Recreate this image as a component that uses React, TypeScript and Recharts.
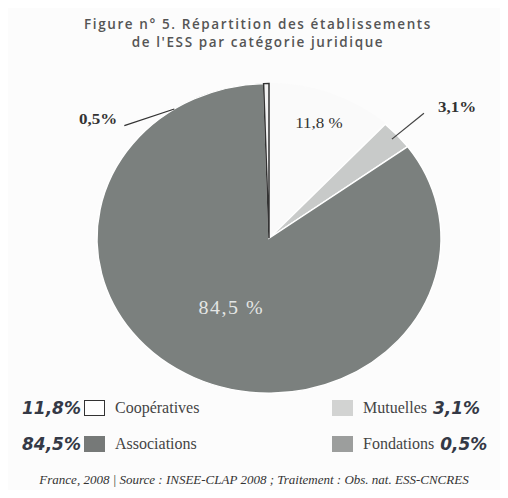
import { PieChart, Pie, Cell } from 'recharts';

const categories = ['Coopératives', 'Mutuelles', 'Associations', 'Fondations'];
const shares = [11.8, 3.1, 84.5, 0.5];
const sliceLabels = ['11,8 %', '3,1%', '84,5 %', '0,5%'];
const handNotes = ['11,8%', '3,1%', '84,5%', '0,5%'];
const sliceFills = ['#fafafa', '#c8cac9', '#7b807e', '#f2f2f2'];
const sliceStrokes = ['#fafafa', '#ffffff', '#ffffff', '#333333'];
const swatchFills = ['#ffffff', '#d2d3d2', '#767978', '#9c9e9d'];

const data = categories.map((name, i) => ({ name, value: shares[i] }));

const RAD = Math.PI / 180;
const polar = (cx: number, cy: number, r: number, a: number) => ({
    x: cx + r * Math.cos(-a * RAD),
    y: cy + r * Math.sin(-a * RAD),
});

const serif = '"Liberation Serif", "DejaVu Serif", serif';
const hand = '"DejaVu Sans", sans-serif';

function renderLabel(props: any) {
    const { cx, cy, midAngle, outerRadius, index } = props;
    const R = outerRadius;
    const text = sliceLabels[index];
    if (index === 0) {
        const p = polar(cx, cy, R * 0.8, midAngle);
        return (
            <text x={p.x} y={p.y} textAnchor="middle" dominantBaseline="central" fontFamily={serif} fontSize={17} fill="#333">
                {text}
            </text>
        );
    }
    if (index === 1) {
        const a = polar(cx, cy, R * 0.96, midAngle);
        const b = polar(cx, cy, R * 1.21, midAngle);
        return (
            <g>
                <line x1={a.x} y1={a.y} x2={b.x} y2={b.y} stroke="#444" strokeWidth={1.2} />
                <text x={b.x + 14} y={b.y - 7} textAnchor="start" dominantBaseline="central" fontFamily={serif} fontWeight="bold" fontSize={17} fill="#333">
                    {text}
                </text>
            </g>
        );
    }
    if (index === 2) {
        const p = polar(cx, cy, R * 0.5, midAngle);
        return (
            <text x={p.x} y={p.y} textAnchor="middle" dominantBaseline="central" fontFamily={serif} fontSize={20} letterSpacing={1.5} fill="#e4e6e5">
                {text}
            </text>
        );
    }
    const anchor = polar(cx, cy, R, midAngle + 32.5);
    const end = polar(cx, cy, R * 1.13, midAngle + 49);
    return (
        <g>
            <line x1={end.x + 4} y1={end.y} x2={anchor.x} y2={anchor.y} stroke="#333" strokeWidth={1.2} />
            <text x={end.x - 3} y={end.y - 8} textAnchor="end" dominantBaseline="central" fontFamily={serif} fontWeight="bold" fontSize={17} fill="#333">
                {text}
            </text>
        </g>
    );
}

function LegendItem({ i, side }: { i: number; side: 'left' | 'right' }) {
    const note = (
        <span style={{ fontFamily: hand, fontStyle: 'italic', fontWeight: 'bold', fontSize: 17, color: '#343946', width: side === 'left' ? 62 : 'auto', display: 'inline-block' }}>
            {handNotes[i]}
        </span>
    );
    return (
        <div style={{ display: 'flex', alignItems: 'center', height: 20 }}>
            {side === 'left' && note}
            <span
                style={{
                    display: 'inline-block',
                    width: 21,
                    height: 16,
                    background: swatchFills[i],
                    border: i === 0 ? '1.5px solid #333' : 'none',
                    boxSizing: 'border-box',
                    marginRight: 10,
                }}
            />
            <span style={{ fontFamily: serif, fontSize: 16, color: '#444', marginRight: 6 }}>{categories[i]}</span>
            {side === 'right' && note}
        </div>
    );
}

export default function App() {
    return (
        <div style={{ position: 'relative', width: 508, height: 498, margin: -8, background: '#fcfcfc', overflow: 'hidden' }}>
            <div style={{ position: 'absolute', top: 15, left: 0, width: 516, textAlign: 'center', fontFamily: '"Open Sans", sans-serif', fontSize: 13.5, lineHeight: '18px', letterSpacing: 1.6, color: '#555', fontWeight: 600 }}>
                Figure n° 5. Répartition des établissements
                <br />
                de l'ESS par catégorie juridique
            </div>
            <div style={{ position: 'absolute', top: 79, left: 0, width: 508, height: 380, transform: 'scaleY(0.9)', transformOrigin: 'top left' }}>
                <PieChart width={508} height={380}>
                    <Pie
                        data={data}
                        dataKey="value"
                        nameKey="name"
                        cx={264}
                        cy={172}
                        outerRadius={172}
                        startAngle={90}
                        endAngle={-270}
                        label={renderLabel}
                        labelLine={false}
                        isAnimationActive={false}
                    >
                        {data.map((d, i) => (
                            <Cell key={d.name} fill={sliceFills[i]} stroke={sliceStrokes[i]} strokeWidth={1.5} />
                        ))}
                    </Pie>
                </PieChart>
            </div>
            <div style={{ position: 'absolute', top: 398, left: 22, display: 'flex', flexDirection: 'column', gap: 16 }}>
                <LegendItem i={0} side="left" />
                <LegendItem i={2} side="left" />
            </div>
            <div style={{ position: 'absolute', top: 398, left: 332, display: 'flex', flexDirection: 'column', gap: 16 }}>
                <LegendItem i={1} side="right" />
                <LegendItem i={3} side="right" />
            </div>
            <div style={{ position: 'absolute', top: 472, left: 0, width: 508, textAlign: 'center', fontFamily: serif, fontStyle: 'italic', fontSize: 13, lineHeight: '15px', color: '#333' }}>
                France, 2008 | Source : INSEE-CLAP 2008 ; Traitement : Obs. nat. ESS-CNCRES
            </div>
        </div>
    );
}
